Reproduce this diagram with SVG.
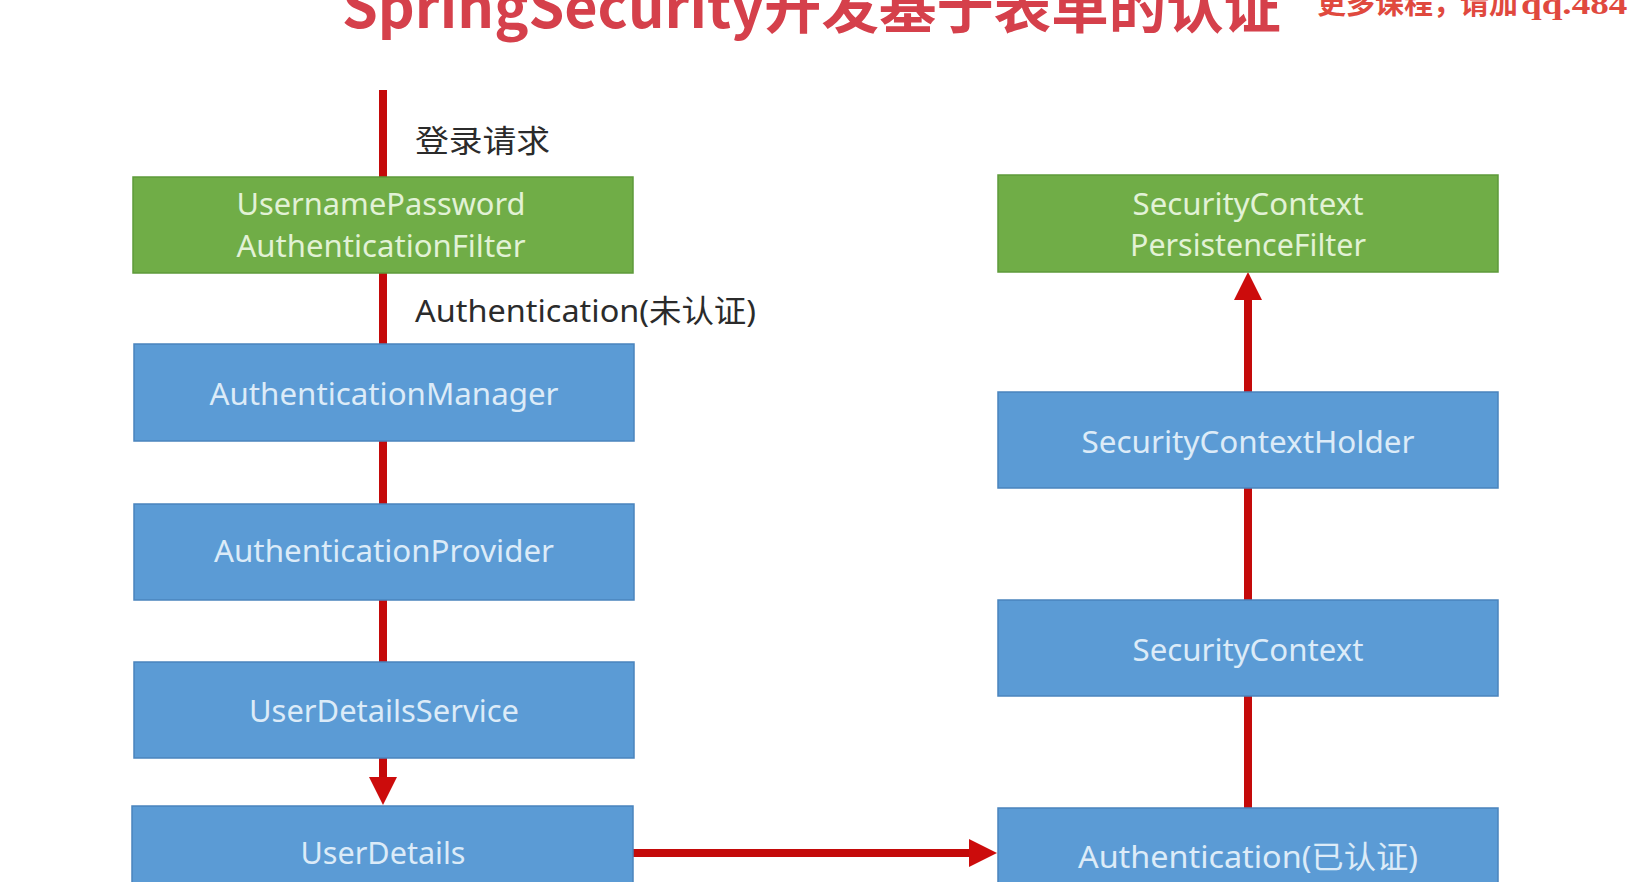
<svg xmlns="http://www.w3.org/2000/svg" width="1628" height="882" viewBox="0 0 1628 882">
<style>
.bg{fill:#ffffff}
.green rect{fill:#70ad47;stroke:#5e9a3a;stroke-width:1.5}
.blue rect{fill:#5b9bd5;stroke:#4a84bd;stroke-width:1.5}
.green text{fill:#e2f2d6}
.blue text{fill:#dcebf8}
.node text{font-family:"Noto Sans","Noto Sans CJK SC",sans-serif;font-size:31px;text-anchor:middle}
.edge{stroke:#c40a0a;stroke-width:8;fill:none}
.lbl{font-family:"Noto Sans","Noto Sans CJK SC",sans-serif;font-size:31px;fill:#2b2b2b}
.title{font-family:"Noto Sans CJK SC",sans-serif;font-size:58px;font-weight:bold;fill:#d5404b}
.wm{font-family:"Liberation Serif","Noto Sans CJK SC",serif;font-size:29px;font-weight:bold;fill:#e0493e}
</style>
<defs>
<marker id="ah" markerUnits="userSpaceOnUse" markerWidth="30" markerHeight="30" refX="0" refY="14" orient="auto" viewBox="0 0 30 30">
<path d="M0,0 L28,14 L0,28 z" fill="#cc0c0c"/>
</marker>
</defs>
<rect class="bg" x="0" y="0" width="1628" height="882"/>

<text class="title" x="342" y="28" textLength="939" lengthAdjust="spacingAndGlyphs">SpringSecurity开发基于表单的认证</text>
<text class="wm" y="14"><tspan x="1317">更多课程，</tspan><tspan x="1460">请加</tspan><tspan x="1521" textLength="125" lengthAdjust="spacingAndGlyphs">qq.4846</tspan></text>

<g id="connectors">
<line class="edge" x1="383" y1="90" x2="383" y2="177"/>
<line class="edge" x1="383" y1="273" x2="383" y2="344"/>
<line class="edge" x1="383" y1="441" x2="383" y2="504"/>
<line class="edge" x1="383" y1="600" x2="383" y2="662"/>
<line class="edge" x1="383" y1="758" x2="383" y2="777" marker-end="url(#ah)"/>
<line class="edge" x1="633" y1="853" x2="969" y2="853" stroke-width="10" marker-end="url(#ah)"/>
<line class="edge" x1="1248" y1="808" x2="1248" y2="696"/>
<line class="edge" x1="1248" y1="600" x2="1248" y2="488"/>
<line class="edge" x1="1248" y1="392" x2="1248" y2="300" marker-end="url(#ah)"/>
<text class="lbl" x="415" y="152" font-size="32" textLength="135" lengthAdjust="spacingAndGlyphs">登录请求</text>
<text class="lbl" x="415" y="322" textLength="341" lengthAdjust="spacingAndGlyphs">Authentication(未认证)</text>
</g>

<g id="usernamePasswordAuthenticationFilter" class="node green">
<rect x="133" y="177" width="500" height="96"/>
<text x="381" y="215" textLength="289" lengthAdjust="spacingAndGlyphs">UsernamePassword</text>
<text x="381" y="257" textLength="289" lengthAdjust="spacingAndGlyphs">AuthenticationFilter</text>
</g>
<g id="authenticationManager" class="node blue">
<rect x="134" y="344" width="500" height="97"/>
<text x="384" y="405" textLength="349" lengthAdjust="spacingAndGlyphs">AuthenticationManager</text>
</g>
<g id="authenticationProvider" class="node blue">
<rect x="134" y="504" width="500" height="96"/>
<text x="384" y="562" textLength="340" lengthAdjust="spacingAndGlyphs">AuthenticationProvider</text>
</g>
<g id="userDetailsService" class="node blue">
<rect x="134" y="662" width="500" height="96"/>
<text x="384" y="722" textLength="270" lengthAdjust="spacingAndGlyphs">UserDetailsService</text>
</g>
<g id="userDetails" class="node blue">
<rect x="132" y="806" width="501" height="100"/>
<text x="383" y="864" textLength="165" lengthAdjust="spacingAndGlyphs">UserDetails</text>
</g>

<g id="securityContextPersistenceFilter" class="node green">
<rect x="998" y="175" width="500" height="97"/>
<text x="1248" y="215" textLength="231" lengthAdjust="spacingAndGlyphs">SecurityContext</text>
<text x="1248" y="256" textLength="236" lengthAdjust="spacingAndGlyphs">PersistenceFilter</text>
</g>
<g id="securityContextHolder" class="node blue">
<rect x="998" y="392" width="500" height="96"/>
<text x="1248" y="453" textLength="333" lengthAdjust="spacingAndGlyphs">SecurityContextHolder</text>
</g>
<g id="securityContext" class="node blue">
<rect x="998" y="600" width="500" height="96"/>
<text x="1248" y="661" textLength="231" lengthAdjust="spacingAndGlyphs">SecurityContext</text>
</g>
<g id="authenticationAuthenticated" class="node blue">
<rect x="998" y="808" width="500" height="100"/>
<text x="1248" y="868" textLength="340" lengthAdjust="spacingAndGlyphs">Authentication(已认证)</text>
</g>
</svg>
